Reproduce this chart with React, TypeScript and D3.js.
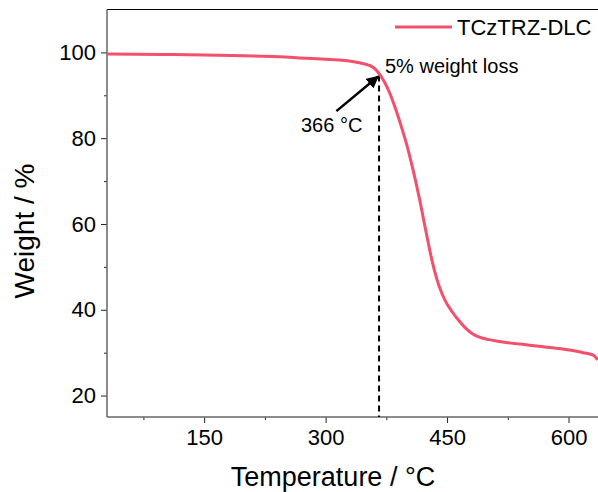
import React, { useEffect, useRef } from "react";
import * as d3 from "d3";

// TGA trace
const temps = [30, 100, 150, 200, 250, 268, 300, 317, 335, 346, 355, 363, 367, 373, 379, 385, 392, 400, 408, 416, 424, 432, 440, 448, 456, 464, 472, 480, 490, 500, 515, 540, 577, 605, 618, 626, 631, 636];
const weights = [99.6, 99.5, 99.4, 99.2, 98.9, 98.7, 98.4, 98.2, 97.8, 97.4, 96.9, 95.8, 94.8, 93.0, 90.6, 87.6, 83.6, 78.6, 72.6, 65.8, 58.2, 51.0, 45.6, 42.0, 39.6, 37.6, 35.9, 34.6, 33.6, 33.1, 32.6, 32.0, 31.2, 30.5, 30.0, 29.7, 29.4, 28.3];

const xMajor = [150, 300, 450, 600];
const xMinor = [75, 225, 375, 525];
const yMajor = [20, 40, 60, 80, 100];
const yMinor = [30, 50, 70, 90];

const seriesName = "TCzTRZ-DLC";
const onsetTemp = 366;
const onsetWeight = 94.6;

const FONT = "'Liberation Sans', Arial, sans-serif";
const RED = "#f2506b";

const App = () => {
  const ref = useRef<SVGSVGElement>(null);

  useEffect(() => {
    const width = 598;
    const margin = { top: 9.5, left: 107, bottom: 417 };

    const svg = d3.select(ref.current);
    svg.selectAll("*").remove();

    const x = d3.scaleLinear().domain([30, 636.4]).range([margin.left, width]);
    const y = d3.scaleLinear().domain([15, 110]).range([margin.bottom, margin.top]);

    // top frame line
    svg.append("line")
      .attr("x1", margin.left).attr("x2", width)
      .attr("y1", margin.top).attr("y2", margin.top)
      .attr("stroke", "#000").attr("stroke-width", 1);

    // axes (majors with labels, minors plain)
    const gx = svg.append("g").attr("transform", `translate(0,${margin.bottom})`);
    gx.call(d3.axisBottom(x).tickValues(xMajor).tickSize(6).tickPadding(6).tickFormat(d3.format("d")));
    const gxm = svg.append("g").attr("transform", `translate(0,${margin.bottom})`);
    gxm.call(d3.axisBottom(x).tickValues(xMinor).tickSize(3).tickFormat(() => ""));

    const gy = svg.append("g").attr("transform", `translate(${margin.left},0)`);
    gy.call(d3.axisLeft(y).tickValues(yMajor).tickSize(6).tickPadding(5).tickFormat(d3.format("d")));
    const gym = svg.append("g").attr("transform", `translate(${margin.left},0)`);
    gym.call(d3.axisLeft(y).tickValues(yMinor).tickSize(3).tickFormat(() => ""));

    [gx, gxm, gy, gym].forEach((g) => {
      g.select(".domain").remove();
      g.selectAll(".tick line").attr("stroke", "#222");
      g.selectAll("text")
        .attr("font-family", FONT)
        .attr("font-size", 22)
        .attr("fill", "#000");
    });

    // left / bottom spines, greyish as in the source
    svg.append("line")
      .attr("x1", margin.left).attr("x2", margin.left)
      .attr("y1", margin.top).attr("y2", margin.bottom)
      .attr("stroke", "#666").attr("stroke-width", 1.5);
    svg.append("line")
      .attr("x1", margin.left).attr("x2", width)
      .attr("y1", margin.bottom).attr("y2", margin.bottom)
      .attr("stroke", "#666").attr("stroke-width", 1.5);

    // axis titles
    svg.append("text")
      .attr("x", 333).attr("y", 486)
      .attr("text-anchor", "middle")
      .attr("font-family", FONT).attr("font-size", 27)
      .text("Temperature / °C");

    svg.append("text")
      .attr("transform", `translate(34,231) rotate(-90)`)
      .attr("text-anchor", "middle")
      .attr("font-family", FONT).attr("font-size", 28)
      .text("Weight / %");

    // dashed marker at the 5% loss temperature
    svg.append("line")
      .attr("x1", x(onsetTemp)).attr("x2", x(onsetTemp))
      .attr("y1", y(onsetWeight)).attr("y2", margin.bottom)
      .attr("stroke", "#000").attr("stroke-width", 2)
      .attr("stroke-dasharray", "6,4");

    // curve
    const data = temps.map((t, i) => ({ t, w: weights[i] }));
    const line = d3.line<{ t: number; w: number }>()
      .x((d) => x(d.t))
      .y((d) => y(d.w))
      .curve(d3.curveMonotoneX);

    svg.append("path")
      .datum(data)
      .attr("d", line)
      .attr("fill", "none")
      .attr("stroke", RED)
      .attr("stroke-width", 3)
      .attr("stroke-linejoin", "round");

    // arrow annotation
    svg.append("defs").append("marker")
      .attr("id", "arrowHead")
      .attr("viewBox", "0 0 10 10")
      .attr("refX", 9).attr("refY", 5)
      .attr("markerWidth", 5).attr("markerHeight", 5)
      .attr("markerUnits", "strokeWidth")
      .attr("orient", "auto")
      .append("path")
      .attr("d", "M0,0 L10,5 L0,10 z")
      .attr("fill", "#000");

    svg.append("line")
      .attr("x1", x(313.3)).attr("y1", y(86.3))
      .attr("x2", x(onsetTemp) - 1).attr("y2", y(onsetWeight) + 1)
      .attr("stroke", "#000").attr("stroke-width", 2.5)
      .attr("marker-end", "url(#arrowHead)");

    svg.append("text")
      .attr("x", 385).attr("y", 73)
      .attr("font-family", FONT).attr("font-size", 20)
      .text("5% weight loss");

    svg.append("text")
      .attr("x", 301).attr("y", 131.5)
      .attr("font-family", FONT).attr("font-size", 20)
      .text(`${onsetTemp} °C`);

    // legend
    svg.append("line")
      .attr("x1", 395).attr("x2", 452)
      .attr("y1", 27).attr("y2", 27)
      .attr("stroke", RED).attr("stroke-width", 3);
    svg.append("text")
      .attr("x", 457).attr("y", 35)
      .attr("font-family", FONT).attr("font-size", 22)
      .text(seriesName);
  }, []);

  return (
    <svg
      ref={ref}
      width={598}
      height={492}
      style={{ position: "absolute", left: 0, top: 0, background: "#fff" }}
    />
  );
};

export default App;
